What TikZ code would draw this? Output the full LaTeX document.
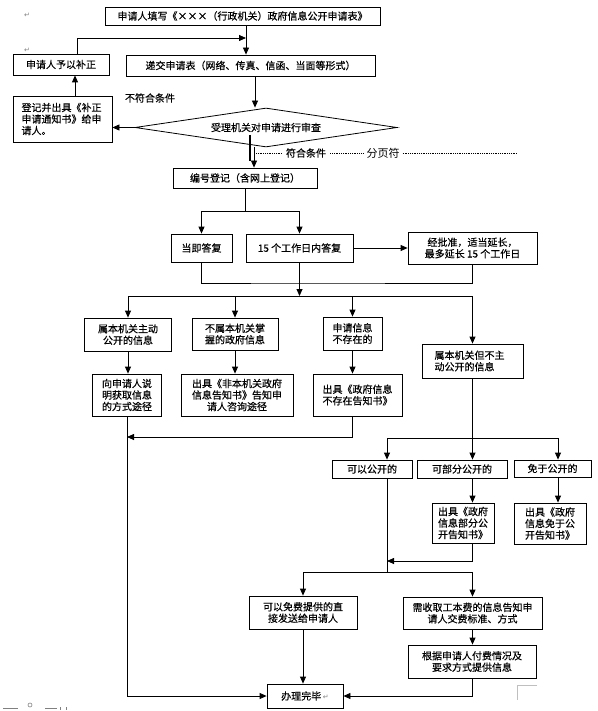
\documentclass[tikz,border=0pt]{standalone}
\usepackage{fontspec}
\setmainfont{Noto Sans CJK SC}
\newfontfamily\cjk[FakeBold=0.4]{Noto Sans CJK SC}
\newfontfamily\cjkreg{Noto Sans CJK SC}
\newfontfamily\dejavu{DejaVu Sans}
\usetikzlibrary{arrows.meta,shapes.geometric}
\begin{document}
\begin{tikzpicture}[x=1pt,y=-1pt,
  box/.style={draw, rectangle, inner sep=0pt, align=center, line width=0.8pt, font={\cjk\fontsize{10}{11.5}\selectfont}},
  lbl/.style={inner sep=0pt, font={\cjk\fontsize{10}{11.5}\selectfont}},
  conn/.style={line width=0.8pt},
  arr/.style={conn, -{Triangle[length=7pt,width=6pt]}},
  dotln/.style={line width=0.6pt, dash pattern=on 0.6pt off 1.2pt},
  pm/.style={inner sep=0pt, text=gray, font={\dejavu\fontsize{7}{7}\selectfont}}
]
\useasboundingbox (0,0) rectangle (597,711);

% nodes
\node[box, minimum width=275, minimum height=18] (top) at (242.5,16) {申请人填写《×××（行政机关）政府信息公开申请表》};
\node[box, minimum width=96, minimum height=21] (buz) at (61,64.5) {申请人予以补正};
\node[box, minimum width=249, minimum height=21] (dij) at (250.5,65.5) {递交申请表（网络、传真、信函、当面等形式）};
\node[draw, diamond, aspect=6.7, minimum width=262, minimum height=39, inner sep=0pt, conn, font={\cjk\fontsize{10}{11.5}\selectfont}] (dia) at (266,127.5) {受理机关对申请进行审查};
\node[box, minimum width=99, minimum height=46, align=left, text width=82] (bu) at (62.5,119) {登记并出具《补正\\申请通知书》给申\\请人。};
\node[box, minimum width=144, minimum height=20] (bh) at (245,178) {编号登记（含网上登记）};
\node[box, minimum width=61, minimum height=28] (dj) at (201.5,248) {当即答复};
\node[box, minimum width=107, minimum height=28] (d15) at (299.5,248) {15 个工作日内答复};
\node[box, minimum width=129, minimum height=32] (yan) at (472.5,248) {经批准，适当延长，\\最多延长 15 个工作日};
\node[box, minimum width=87, minimum height=33] (c1) at (128,334.5) {属本机关主动\\公开的信息};
\node[box, minimum width=86, minimum height=32] (c2) at (235,334) {不属本机关掌\\握的政府信息};
\node[box, minimum width=59, minimum height=33] (c3) at (352.5,333.5) {申请信息\\不存在的};
\node[box, minimum width=101, minimum height=34, align=left, text width=76] (c4) at (472.5,361) {属本机关但不主\\动公开的信息};
\node[box, minimum width=69, minimum height=42] (r1) at (127,395) {向申请人说\\明获取信息\\的方式途径};
\node[box, minimum width=112, minimum height=42] (r2) at (237,395) {出具《非本机关政府\\信息告知书》告知申\\请人咨询途径};
\node[box, minimum width=89, minimum height=42] (r3) at (357.5,395) {出具《政府信息\\不存在告知书》};
\node[box, minimum width=80, minimum height=18] (k1) at (372,469) {可以公开的};
\node[box, minimum width=90, minimum height=18] (k2) at (462,469) {可部分公开的};
\node[box, minimum width=77, minimum height=17] (k3) at (552.5,468.5) {免于公开的};
\node[box, minimum width=62, minimum height=40] (g2) at (463,523) {出具《政府\\信息部分公\\开告知书》};
\node[box, minimum width=72, minimum height=41] (g3) at (550,523.5) {出具《政府\\信息免于公\\开告知书》};
\node[box, minimum width=108, minimum height=33] (f1) at (303,612.5) {可以免费提供的直\\接发送给申请人};
\node[box, minimum width=139, minimum height=32] (f2) at (472.5,613) {需收取工本费的信息告知申\\请人交费标准、方式};
\node[box, minimum width=128, minimum height=33] (f3) at (472,661.5) {根据申请人付费情况及\\要求方式提供信息};
\node[box, minimum width=76, minimum height=24] (fin) at (305,696) {办理完毕\,{\dejavu\fontsize{7}{7}\selectfont\color{gray}↵}};

% labels
\node[lbl] (nf) at (150,98) {不符合条件};
\node[lbl] (fh) at (306,153) {符合条件};
\node[lbl, font={\cjkreg\fontsize{11}{12}\selectfont}] (fy) at (383,153) {分页符};
\node[pm] (p1) at (27,15) {↵};
\node[pm] (p2) at (27,50) {↵};

% dotted page-break line and bar
\draw[dotln] (256,153) -- ([xshift=-4pt]fh.west);
\draw[dotln] ([xshift=4pt]fh.east) -- ([xshift=-2pt]fy.west);
\draw[dotln] ([xshift=3pt]fy.east) -- (517,153);
\draw[line width=2.5pt] (250,135) -- (250,161);

% connectors top part
\coordinate (jt) at (246,38);
\draw[arr] ([xshift=3.5pt]top.south) -- ([xshift=3.5pt]top.south |- dij.north);
\draw[arr] ([xshift=16pt]buz.north) |- (jt);
\draw[arr] ([xshift=4.5pt]dij.south) -- ([xshift=4.5pt]dij.south |- dia.north);
\draw[arr] (dia.west) -- (dia.west -| bu.east);
\draw[arr] ([xshift=12.5pt]bu.north) -- ([xshift=12.5pt]bu.north |- buz.south);
\draw[arr] ([xshift=9pt]bh.north |- dia.south) -- ([xshift=9pt]bh.north);

% registration and replies
\coordinate (jb) at (245,211);
\draw[conn] (bh.south) -- (jb);
\draw[arr] (jb) -| (dj.north);
\draw[arr] (jb) -| (d15.north);
\draw[arr] (d15.east) -- (d15.east -| yan.west);
\coordinate (jm) at (299.5,283);
\draw[conn] (dj.south) |- (jm) -| (yan.south);
\coordinate (jr) at (299.5,296);
\draw[arr] (d15.south) -- (jr);

% four categories
\draw[conn] (c1.north |- jr) -- (c4.north |- jr);
\draw[arr] (c1.north |- jr) -- (c1.north);
\draw[arr] (c2.north |- jr) -- (c2.north);
\draw[arr] (c3.north |- jr) -- (c3.north);
\draw[arr] (c4.north |- jr) -- (c4.north);
\draw[arr] (c1.south) -- (c1.south |- r1.north);
\draw[arr] (c2.south) -- (c2.south |- r2.north);
\draw[arr] (c3.south) -- (c3.south |- r3.north);
\coordinate (jl) at (127,437);
\draw[arr] (c3.south |- r3.south) |- (jl);
\draw[arr] (r1.south) |- (fin.west);

% not actively disclosed
\coordinate (jk1) at (387,438);
\coordinate (jk2) at (472.5,438);
\coordinate (jk3) at (558,438);
\draw[conn] (c4.south) -- (jk2);
\draw[conn] (jk1) -- (jk3);
\draw[arr] (jk1) -- (jk1 |- k1.north);
\draw[arr] (jk2) -- (jk2 |- k2.north);
\draw[arr] (jk3) -- (jk3 |- k3.north);
\draw[arr] (jk2 |- k2.south) -- (jk2 |- g2.north);
\draw[arr] (jk3 |- k3.south) -- (jk3 |- g3.north);
\coordinate (jf) at (387,572);
\coordinate (jg) at (387,561);
\draw[conn] (jk1 |- k1.south) -- (jf);
\draw[arr] (jk2 |- g2.south) |- (jg);
\draw[arr] (jf) -| (f1.north);
\draw[arr] (jf) -| (f2.north);
\draw[arr] (f2.south) -- (f2.south |- f3.north);
\draw[arr] (f1.south) -- (f1.south |- fin.north);
\draw[arr] (f3.south) |- (fin.east);

% page marks
\draw[gray!50, line width=0.8pt] (517,700) -- (517,685) -- (537,685);
\draw[gray, line width=0.6pt] (3,708) -- (18,708);
\draw[gray, line width=0.6pt] (30,705) circle[radius=2pt];
\draw[gray, line width=0.6pt] (45,708) -- (57,708);
\draw[gray, line width=0.6pt] (60,707) -- (60,710);
\draw[gray, line width=0.6pt] (66,707) -- (66,710);
\end{tikzpicture}
\end{document}
